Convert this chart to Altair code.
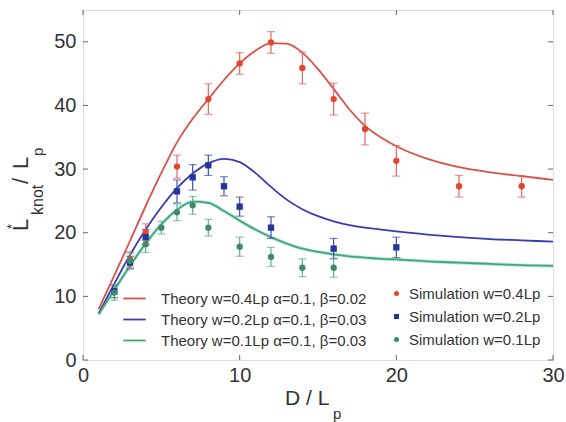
import altair as alt
import pandas as pd

# ---------------- data ----------------
theory_x = [1, 2, 3, 4, 5, 6, 7, 8, 9, 10, 11, 12, 13, 14, 15, 16, 17, 18, 19, 20, 22, 24, 26, 28, 30]
theory_04 = [8.0, 13.3, 18.7, 24.2, 29.4, 34.2, 37.9, 41.0, 44.0, 46.6, 48.6, 49.8, 49.7, 48.3, 45.7,
             42.6, 39.4, 36.8, 35.0, 33.6, 31.6, 30.3, 29.5, 28.9, 28.3]
theory_02 = [7.3, 12.0, 16.5, 20.5, 24.0, 27.0, 29.3, 30.9, 31.6, 31.1, 29.4, 27.2, 25.2, 23.7, 22.6,
             21.8, 21.2, 20.8, 20.5, 20.2, 19.7, 19.3, 19.0, 18.8, 18.6]
theory_01 = [7.2, 11.0, 14.8, 18.3, 21.3, 23.6, 24.9, 24.7, 23.4, 21.9, 20.5, 19.3, 18.3, 17.5, 17.0,
             16.6, 16.3, 16.1, 15.9, 15.8, 15.5, 15.3, 15.1, 14.9, 14.8]

sim04_x = [3, 4, 6, 8, 10, 12, 14, 16, 18, 20, 24, 28]
sim04_y = [15.8, 20.1, 30.4, 41.0, 46.6, 49.9, 45.9, 41.0, 36.3, 31.3, 27.3, 27.3]
sim04_e = [1.2, 1.3, 1.8, 2.4, 1.7, 1.7, 2.5, 2.5, 2.5, 2.4, 1.7, 1.7]

sim02_x = [2, 3, 4, 6, 7, 8, 9, 10, 12, 16, 20]
sim02_y = [10.8, 15.3, 19.3, 26.5, 28.7, 30.6, 27.3, 24.1, 20.8, 17.5, 17.7]
sim02_e = [1.0, 1.0, 1.2, 1.8, 2.0, 1.6, 1.5, 1.5, 1.7, 1.6, 1.6]

sim01_x = [2, 3, 4, 5, 6, 7, 8, 10, 12, 14, 16]
sim01_y = [10.6, 15.6, 18.2, 20.8, 23.2, 24.3, 20.8, 17.8, 16.2, 14.5, 14.5]
sim01_e = [1.2, 1.2, 1.3, 1.0, 1.3, 1.4, 1.3, 1.5, 1.5, 1.4, 1.5]

theory_labels = ["Theory w=0.4Lp α=0.1, β=0.02",
                 "Theory w=0.2Lp α=0.1, β=0.03",
                 "Theory w=0.1Lp α=0.1, β=0.03"]
sim_labels = ["Simulation w=0.4Lp", "Simulation w=0.2Lp", "Simulation w=0.1Lp"]

x_ticks = [0, 10, 20, 30]
y_ticks = [0, 10, 20, 30, 40, 50]

theory_colors = ["#d9504a", "#3a3ab2", "#45a870"]
sim_colors = ["#e2472e", "#24369c", "#3f8a66"]
err_colors = ["#e06666", "#3f4fb0", "#62ae8e"]
sim_shapes = ["circle", "square", "circle"]

# ---------------- tables ----------------
theory_df = pd.concat([
    pd.DataFrame({"x": theory_x, "y": ys, "series": lab})
    for ys, lab in zip([theory_04, theory_02, theory_01], theory_labels)
], ignore_index=True)

sim_df = pd.concat([
    pd.DataFrame({"x": xs, "y": ys, "lo": [a - b for a, b in zip(ys, es)],
                  "hi": [a + b for a, b in zip(ys, es)], "series": lab})
    for xs, ys, es, lab in zip([sim04_x, sim02_x, sim01_x], [sim04_y, sim02_y, sim01_y],
                               [sim04_e, sim02_e, sim01_e], sim_labels)
], ignore_index=True)

W, H = 470, 350
FONT = "Liberation Sans"
TXT = "#333333"
GRAY = "#666666"

xs = alt.Scale(domain=[0, 30], nice=False)
ys_ = alt.Scale(domain=[0, 55], nice=False)

xax = alt.Axis(values=x_ticks, labelFontSize=20, labelColor=TXT, labelFont=FONT, ticks=False,
               domain=False, grid=False, labelPadding=5, title=None, format="d", labelFlush=False)
yax = alt.Axis(values=y_ticks, labelFontSize=20, labelColor=TXT, labelFont=FONT, ticks=False,
               domain=False, grid=False, labelPadding=7, title=None, format="d", labelFlush=False)

base_t = alt.Chart(theory_df)

glow = alt.Chart(theory_df[theory_df.series == theory_labels[2]]).mark_line(
    color="#a6dede", strokeWidth=3.5, opacity=0.8, interpolate="monotone"
).encode(x=alt.X("x:Q", scale=xs, axis=xax), y=alt.Y("y:Q", scale=ys_, axis=yax))

lines = base_t.mark_line(strokeWidth=1.8, interpolate="monotone").encode(
    x=alt.X("x:Q", scale=xs, axis=xax),
    y=alt.Y("y:Q", scale=ys_, axis=yax),
    color=alt.Color("series:N", scale=alt.Scale(domain=theory_labels, range=theory_colors),
                    legend=alt.Legend(title=None, orient="none", legendX=39, legendY=276,
                                      symbolType="stroke", symbolSize=500, symbolStrokeWidth=1.8,
                                      labelFont=FONT, labelFontSize=15, labelColor=TXT,
                                      labelOffset=14, labelLimit=400, rowPadding=0, padding=0)),
    detail="series:N",
)

errs = alt.Chart(sim_df).mark_rule(strokeWidth=1.2).encode(
    x=alt.X("x:Q", scale=xs), y=alt.Y("lo:Q", scale=ys_), y2="hi:Q",
    color=alt.Color("series:N", scale=alt.Scale(domain=sim_labels, range=err_colors), legend=None),
)
caps_lo = alt.Chart(sim_df).mark_tick(orient="horizontal", size=8, thickness=1.2).encode(
    x=alt.X("x:Q", scale=xs), y=alt.Y("lo:Q", scale=ys_),
    color=alt.Color("series:N", scale=alt.Scale(domain=sim_labels, range=err_colors), legend=None),
)
caps_hi = alt.Chart(sim_df).mark_tick(orient="horizontal", size=8, thickness=1.2).encode(
    x=alt.X("x:Q", scale=xs), y=alt.Y("hi:Q", scale=ys_),
    color=alt.Color("series:N", scale=alt.Scale(domain=sim_labels, range=err_colors), legend=None),
)

pts = alt.Chart(sim_df).mark_point(filled=True, size=40, opacity=1).encode(
    x=alt.X("x:Q", scale=xs), y=alt.Y("y:Q", scale=ys_),
    color=alt.Color("series:N", scale=alt.Scale(domain=sim_labels, range=sim_colors),
                    legend=alt.Legend(title=None, orient="none", legendX=306, legendY=276,
                                      symbolSize=25, labelFont=FONT, labelFontSize=15,
                                      labelColor=TXT, labelOffset=5, labelLimit=400,
                                      rowPadding=7, padding=0)),
    shape=alt.Shape("series:N", scale=alt.Scale(domain=sim_labels, range=sim_shapes)),
)

# inward ticks on all four sides
ytick_df = pd.DataFrame({"v": y_ticks})
xtick_df = pd.DataFrame({"v": x_ticks})
tick_l = alt.Chart(ytick_df).mark_rule(color=GRAY, strokeWidth=1).encode(
    y=alt.Y("v:Q", scale=ys_), x=alt.value(0), x2=alt.value(5))
tick_r = alt.Chart(ytick_df).mark_rule(color=GRAY, strokeWidth=1).encode(
    y=alt.Y("v:Q", scale=ys_), x=alt.value(W - 5), x2=alt.value(W))
tick_b = alt.Chart(xtick_df).mark_rule(color=GRAY, strokeWidth=1).encode(
    x=alt.X("v:Q", scale=xs), y=alt.value(H - 5), y2=alt.value(H))
tick_t = alt.Chart(xtick_df).mark_rule(color=GRAY, strokeWidth=1).encode(
    x=alt.X("v:Q", scale=xs), y=alt.value(0), y2=alt.value(5))


def txt(s, x, y, size, angle=0, align="left"):
    return alt.Chart(pd.DataFrame({"t": [s]})).mark_text(
        font=FONT, fontSize=size, color=TXT, align=align, baseline="alphabetic", angle=angle
    ).encode(text="t:N", x=alt.value(x), y=alt.value(y))


OX, OY = 83, 10
titles = [
    txt("D / L", 285 - OX, 405 - OY, 21),
    txt("p", 333 - OX, 419 - OY, 15),
    txt("L", 28 - OX, 231 - OY, 22, angle=270),
    txt("*", 16 - OX, 229 - OY, 13, angle=270),
    txt("knot", 43 - OX, 215 - OY, 16, angle=270),
    txt("/", 28 - OX, 184 - OY, 22, angle=270),
    txt("L", 28 - OX, 169 - OY, 22, angle=270),
    txt("p", 43 - OX, 156 - OY, 15, angle=270),
]

chart = alt.layer(
    glow, lines, errs, caps_lo, caps_hi, pts, tick_l, tick_r, tick_b, tick_t, *titles
).resolve_scale(color="independent", shape="independent").properties(
    width=W, height=H,
    autosize=alt.AutoSizeParams(type="none"),
    padding={"left": OX, "top": OY, "right": 566 - OX - W, "bottom": 422 - OY - H},
).configure_view(stroke=GRAY, strokeWidth=1.2).configure(background="white")

chart.save("out.html", embed_options={"renderer": "svg", "actions": False})
